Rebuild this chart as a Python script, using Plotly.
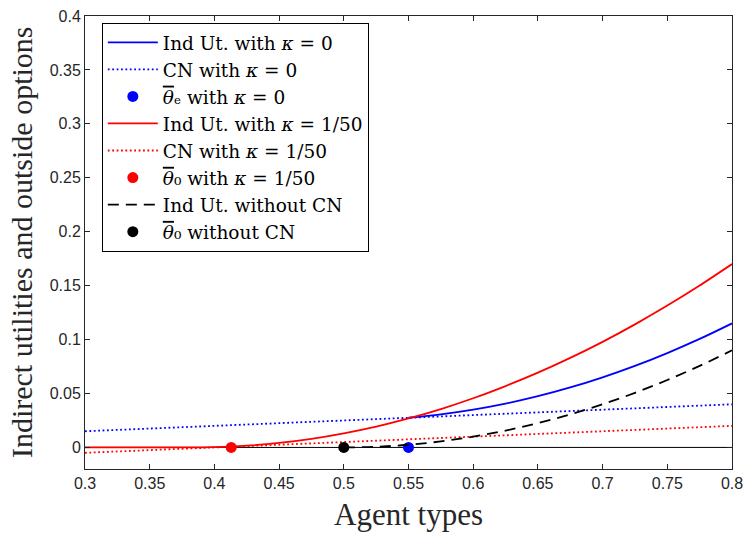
import plotly.graph_objects as go

# ---- data ----
x_red = [0.30, 0.35, 0.385, 0.40, 0.425, 0.45, 0.475, 0.50, 0.525, 0.55, 0.575,
         0.60, 0.625, 0.65, 0.675, 0.70, 0.725, 0.75, 0.775, 0.80]
ind_ut_k50 = [0.0, 0.0, 0.0, 0.0002, 0.0016, 0.0042, 0.0080, 0.0131, 0.0193, 0.0269,
              0.0356, 0.0456, 0.0569, 0.0693, 0.0830, 0.0979, 0.1141, 0.1315, 0.1501, 0.170]

x_blue = [0.55, 0.575, 0.60, 0.625, 0.65, 0.675, 0.70, 0.725, 0.75, 0.775, 0.80]
ind_ut_k0 = [0.0275, 0.0306, 0.035, 0.0406, 0.0475, 0.0556, 0.065, 0.0756, 0.0875, 0.1006, 0.115]

x_black = [0.50, 0.525, 0.55, 0.575, 0.60, 0.625, 0.65, 0.675, 0.70, 0.725, 0.75, 0.775, 0.80]
ind_ut_nocn = [0.0, 0.0006, 0.0025, 0.0056, 0.010, 0.0156, 0.0225, 0.0306, 0.040,
               0.0506, 0.0625, 0.0756, 0.090]

x_cn = [0.30, 0.80]
cn_k0 = [0.015, 0.040]
cn_k50 = [-0.005, 0.020]

zero_x = [0.30, 0.80]
zero_y = [0.0, 0.0]

theta_e_k0 = (0.55, 0.0)
theta_0_k50 = (0.413, 0.0)
theta_0_nocn = (0.50, 0.0)

x_ticks = [0.3, 0.35, 0.4, 0.45, 0.5, 0.55, 0.6, 0.65, 0.7, 0.75, 0.8]
y_ticks = [0, 0.05, 0.1, 0.15, 0.2, 0.25, 0.3, 0.35, 0.4]

BLUE = "#0000ff"
RED = "#ff0000"
BLACK = "#000000"
SERIF = "Liberation Serif, Times New Roman, serif"
LEG_SERIF = "DejaVu Serif, serif"
SANS = "Liberation Sans, Arial, sans-serif"
LW = 1.8
DOT = "1.8px,2.6px"

TH = "<span style='text-decoration:overline'><i>θ</i></span>"
KAPPA = "<i>κ</i>"

fig = go.Figure()
fig.add_trace(go.Scatter(x=zero_x, y=zero_y, mode="lines", line=dict(color=BLACK, width=1),
                         showlegend=False, hoverinfo="skip"))
fig.add_trace(go.Scatter(x=x_blue, y=ind_ut_k0, mode="lines", line=dict(color=BLUE, width=LW, shape="spline"),
                         name=f"Ind Ut. with {KAPPA} = 0"))
fig.add_trace(go.Scatter(x=x_cn, y=cn_k0, mode="lines", line=dict(color=BLUE, width=LW, dash=DOT),
                         name=f"CN with {KAPPA} = 0"))
fig.add_trace(go.Scatter(x=[theta_e_k0[0]], y=[theta_e_k0[1]], mode="markers",
                         marker=dict(color=BLUE, size=11), name=f"{TH}\u2091 with {KAPPA} = 0"))
fig.add_trace(go.Scatter(x=x_red, y=ind_ut_k50, mode="lines", line=dict(color=RED, width=LW, shape="spline", smoothing=0.6),
                         name=f"Ind Ut. with {KAPPA} = 1/50"))
fig.add_trace(go.Scatter(x=x_cn, y=cn_k50, mode="lines", line=dict(color=RED, width=LW, dash=DOT),
                         name=f"CN with {KAPPA} = 1/50"))
fig.add_trace(go.Scatter(x=[theta_0_k50[0]], y=[theta_0_k50[1]], mode="markers",
                         marker=dict(color=RED, size=11), name=f"{TH}\u2080 with {KAPPA} = 1/50"))
fig.add_trace(go.Scatter(x=x_black, y=ind_ut_nocn, mode="lines", line=dict(color=BLACK, width=LW, dash="11px,7px", shape="spline"),
                         name="Ind Ut. without CN"))
fig.add_trace(go.Scatter(x=[theta_0_nocn[0]], y=[theta_0_nocn[1]], mode="markers",
                         marker=dict(color=BLACK, size=11), name=f"{TH}\u2080 without CN"))

axis_common = dict(showgrid=False, zeroline=False, showline=True, linecolor="#262626", linewidth=1,
                   mirror="ticks", ticks="inside", ticklen=5, tickcolor="#262626",
                   tickfont=dict(family=SANS, size=16, color="#262626"))
fig.update_xaxes(range=[0.3, 0.8], tickvals=x_ticks, ticktext=[str(v) for v in x_ticks],
                 title=dict(text="Agent types", font=dict(family=SERIF, size=31, color="#262626"), standoff=12),
                 **axis_common)
fig.update_yaxes(range=[-0.02, 0.4], tickvals=y_ticks, ticktext=[("0" if v == 0 else str(v)) for v in y_ticks],
                 **axis_common)

fig.add_annotation(text="Indirect utilities and outside options", textangle=-90,
                   xref="paper", yref="paper", x=-0.098, y=0.5, xanchor="center", yanchor="middle",
                   showarrow=False, font=dict(family=SERIF, size=30, color="#262626"))

fig.update_layout(
    width=751, height=536,
    margin=dict(l=85, r=13, t=8, b=67),
    paper_bgcolor="white", plot_bgcolor="white",
    legend=dict(x=0.026, y=0.985, xanchor="left", yanchor="top",
                bgcolor="white", bordercolor=BLACK, borderwidth=1,
                font=dict(family=LEG_SERIF, size=18.5, color=BLACK),
                itemwidth=50, tracegroupgap=0),
    showlegend=True,
)

fig.write_html("out.html")
